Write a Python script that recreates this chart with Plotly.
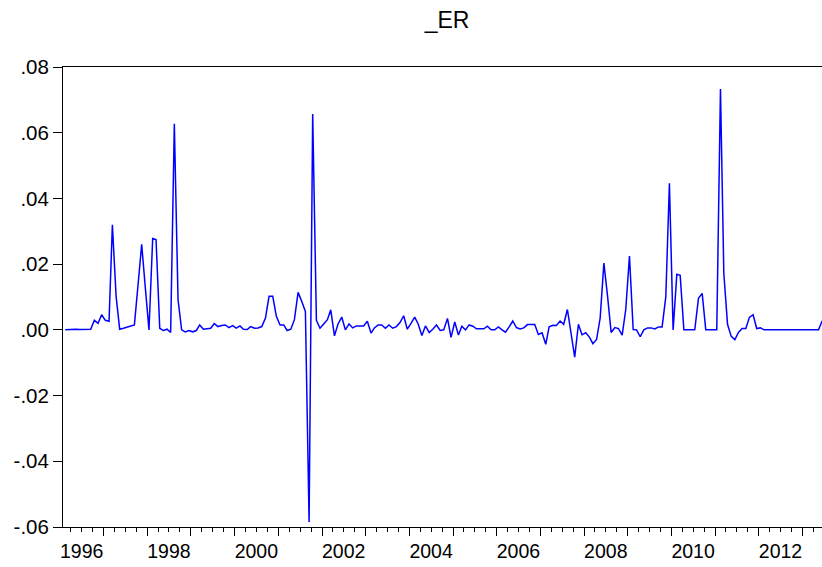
import pandas as pd
import plotly.graph_objects as go

# ---- data (monthly, Feb 1996 - Jun 2013) ----
start_month = "1996-02-01"
er_values = [
    0.0, 0.0001, 0.0001, 0.0002, 0.0001, 0.0002, 0.0002, 0.0002,
    0.0029, 0.0020, 0.0046, 0.0029, 0.0026, 0.0320, 0.0102, 0.0002,
    0.0005, 0.0009, 0.0013, 0.0015, 0.0135, 0.0260, 0.0130, 0.0,
    0.0278, 0.0275, 0.0005, -0.0002, 0.0002, -0.0008, 0.0627, 0.0092,
    0.0, -0.0006, -0.0002, -0.0006, -0.0002, 0.0015, 0.0002, 0.0004,
    0.0005, 0.0019, 0.0010, 0.0013, 0.0015, 0.0007, 0.0013, 0.0005,
    0.0012, 0.0002, 0.0001, 0.0010, 0.0005, 0.0006, 0.0010, 0.0036,
    0.0102, 0.0102, 0.0041, 0.0015, 0.0015, -0.0002, 0.0002, 0.0031,
    0.0114, 0.0087, 0.0056, -0.0585, 0.0657, 0.0029, 0.0005, 0.0018,
    0.0031, 0.0061, -0.0018, 0.0018, 0.0039, 0.0, 0.0018, 0.0006,
    0.0012, 0.0012, 0.0012, 0.0026, -0.0010, 0.0006, 0.0015, 0.0015,
    0.0005, 0.0015, 0.0005, 0.0010, 0.0022, 0.0043, 0.0002, 0.0020,
    0.0039, 0.0018, -0.0017, 0.0012, -0.0008, 0.0002, 0.0015, -0.0002,
    0.0, 0.0035, -0.0023, 0.0024, -0.0016, 0.0011, 0.0, 0.0015,
    0.0011, 0.0003, 0.0002, 0.0003, 0.0011, 0.0, 0.0, 0.0009,
    0.0, -0.0007, 0.0009, 0.0027, 0.0007, 0.0003, 0.0006, 0.0016,
    0.0016, 0.0016, -0.0014, -0.0009, -0.0044, 0.0009, 0.0014, 0.0013,
    0.0027, 0.0017, 0.0062, -0.0010, -0.0083, 0.0017, -0.0015, -0.0009,
    -0.0022, -0.0042, -0.0029, 0.0036, 0.0203, 0.0105, -0.0008, 0.0007,
    0.0004, -0.0016, 0.0062, 0.0225, 0.0001, 0.0, -0.0021, 0.0,
    0.0006, 0.0006, 0.0003, 0.0009, 0.0009, 0.0101, 0.0446, 0.0,
    0.0169, 0.0166, 0.0, 0.0, 0.0, 0.0, 0.0096, 0.0111,
    0.0, 0.0, 0.0, 0.0, 0.0733, 0.0172, 0.0017, -0.0019,
    -0.0030, -0.0008, 0.0004, 0.0004, 0.0038, 0.0046, 0.0004, 0.0006,
    0.0, 0.0, 0.0, 0.0, 0.0, 0.0, 0.0, 0.0,
    0.0, 0.0, 0.0, 0.0, 0.0, 0.0, 0.0, 0.0,
    0.0028,
]

y_tick_values = [-0.06, -0.04, -0.02, 0.0, 0.02, 0.04, 0.06, 0.08]
y_tick_labels = ["-.06", "-.04", "-.02", ".00", ".02", ".04", ".06", ".08"]
year_ticks = [f"{y}-01-01" for y in range(1996, 2014)]
label_years = list(range(1996, 2013, 2))
label_positions = [f"{y}-07-01" for y in label_years]
label_text = [str(y) for y in label_years]
x_range = ["1996-01-27", "2013-06-13"]

dates = pd.date_range(start_month, periods=len(er_values), freq="MS") + pd.Timedelta(days=14)

FONT = "Liberation Sans, Arial, sans-serif"

fig = go.Figure()
fig.add_trace(go.Scatter(x=dates, y=er_values, mode="lines",
                         line=dict(color="#0000FF", width=1.5),
                         showlegend=False, hoverinfo="x+y"))
# invisible trace to carry the label axis
fig.add_trace(go.Scatter(x=dates, y=er_values, mode="lines", xaxis="x2",
                         line=dict(color="rgba(0,0,0,0)", width=0),
                         showlegend=False, hoverinfo="skip"))

fig.update_layout(
    width=822, height=567,
    margin=dict(l=63, r=0, t=67, b=40),
    paper_bgcolor="white", plot_bgcolor="white",
    font=dict(family=FONT, size=20, color="black"),
    title=dict(text="_ER", x=0.506, xref="paper", y=1 - 20 / 567,
               yref="container", xanchor="center", yanchor="middle",
               font=dict(family=FONT, size=23, color="black")),
    xaxis=dict(type="date", range=x_range,
               tickmode="array", tickvals=year_ticks,
               ticktext=["" for _ in year_ticks],
               ticks="outside", ticklen=8, tickwidth=1, tickcolor="black",
               minor=dict(dtick="M3", tick0="1996-01-01", ticks="outside",
                          ticklen=4, tickwidth=1, tickcolor="black",
                          showgrid=False),
               showline=True, linecolor="black", linewidth=1, mirror=True,
               showgrid=False, zeroline=False),
    xaxis2=dict(type="date", range=x_range, overlaying="x", side="bottom",
                anchor="y",
                tickmode="array", tickvals=label_positions, ticktext=label_text,
                ticks="outside", ticklen=7, tickcolor="rgba(0,0,0,0)",
                showline=False, showgrid=False, zeroline=False,
                tickfont=dict(family=FONT, size=19.5, color="black")),
    yaxis=dict(range=[-0.06, 0.08], tickmode="array",
               tickvals=y_tick_values, ticktext=y_tick_labels,
               ticks="outside", ticklen=9, tickwidth=1, tickcolor="black",
               showline=True, linecolor="black", linewidth=1,
               showgrid=False, zeroline=False,
               tickfont=dict(family=FONT, size=20.5, color="black")),
)

fig.write_html("out.html")
